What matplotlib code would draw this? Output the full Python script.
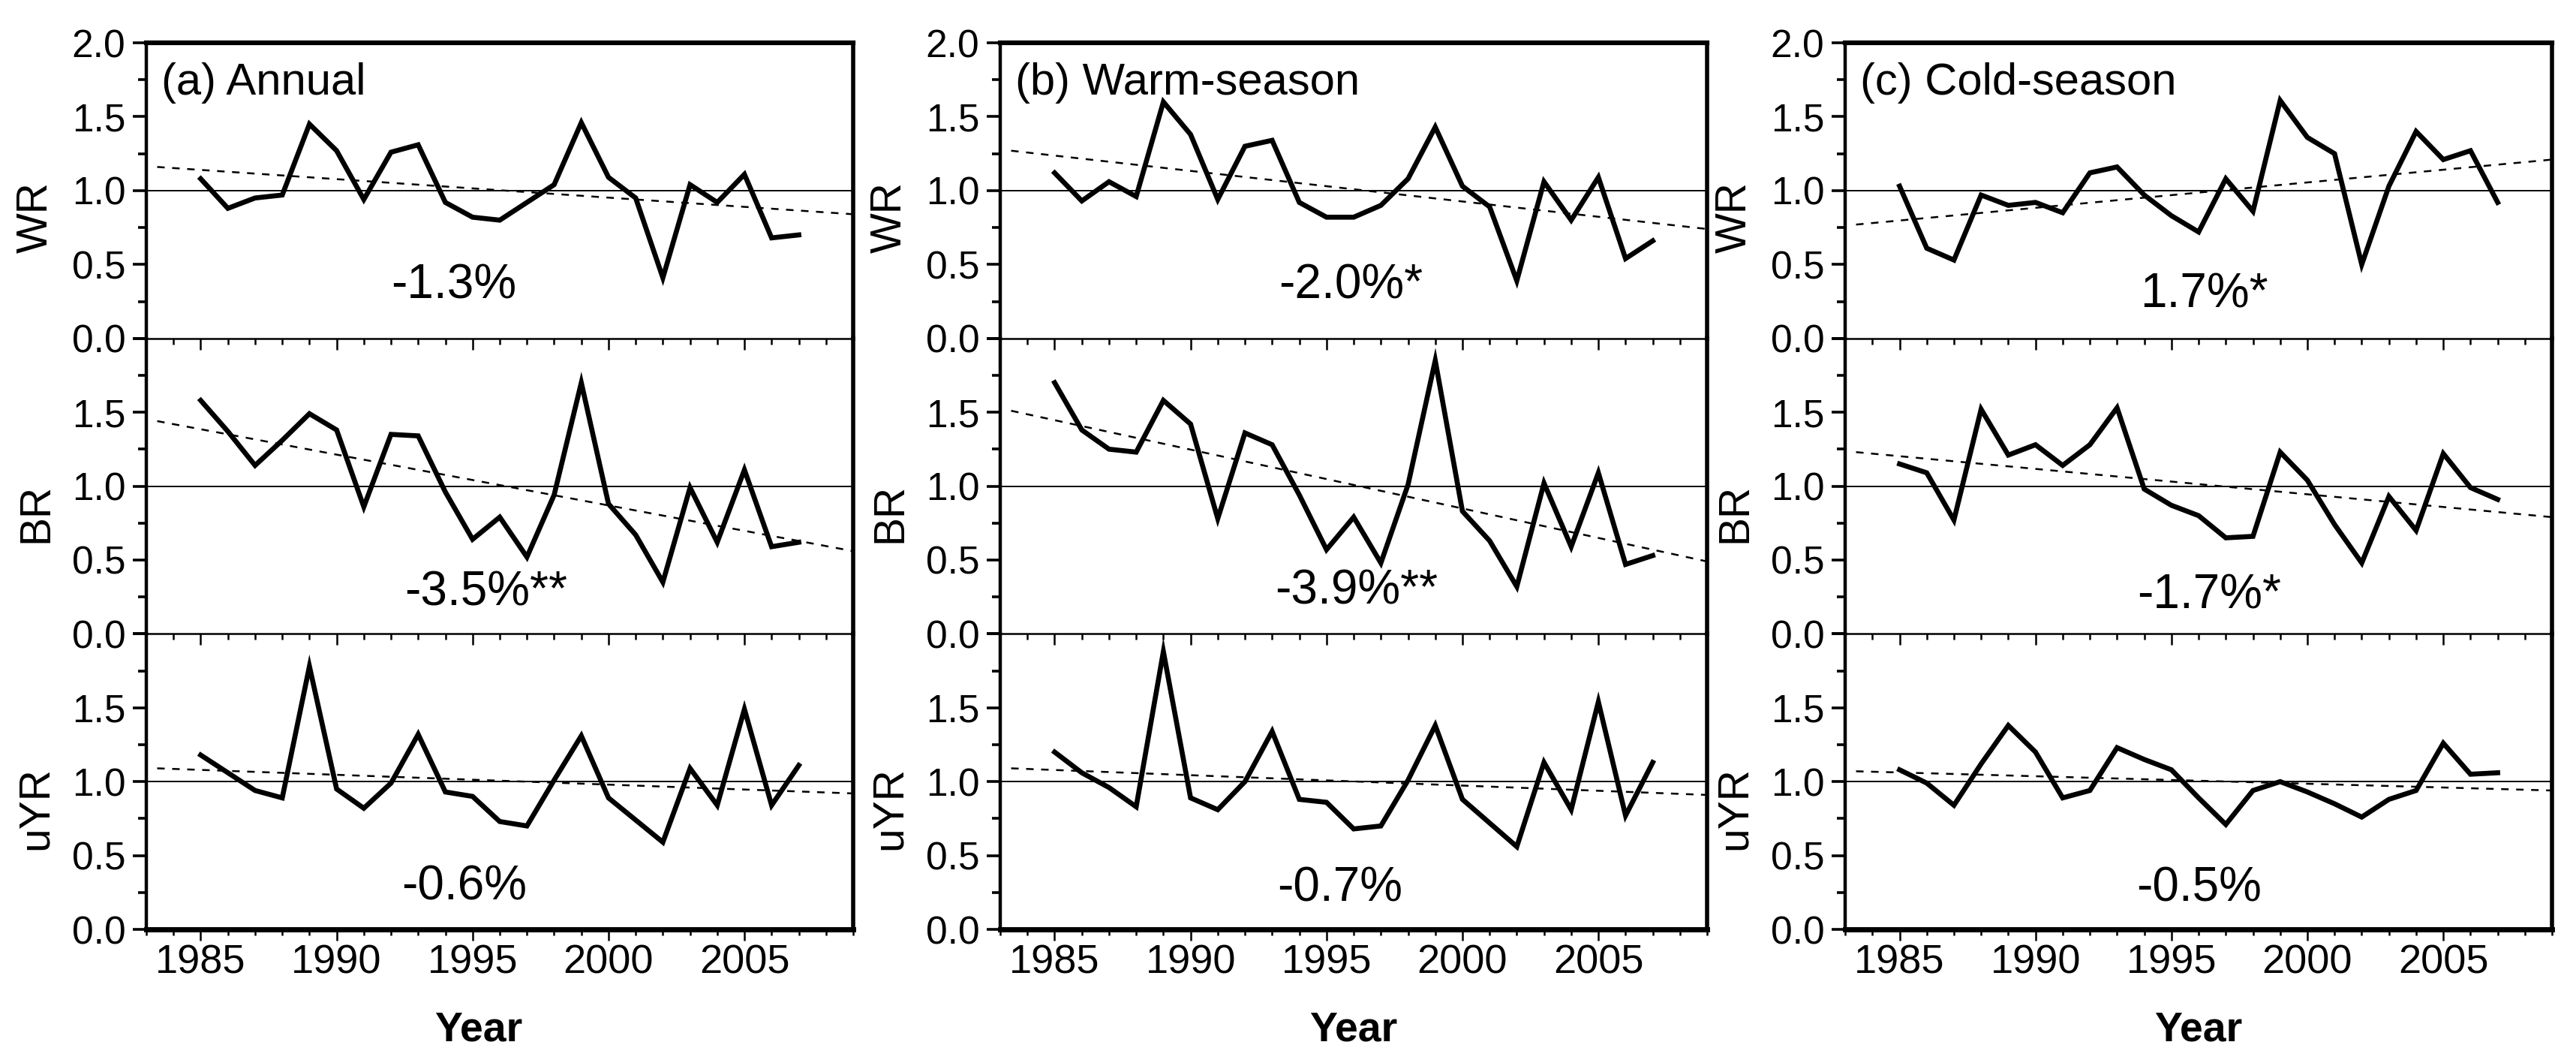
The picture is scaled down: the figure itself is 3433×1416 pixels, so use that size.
import matplotlib
matplotlib.use('Agg')
import matplotlib.pyplot as plt
import numpy as np
from matplotlib.ticker import MultipleLocator

plt.rcParams['font.family'] = ['Liberation Sans', 'DejaVu Sans']

# data
years = np.arange(1985, 2008)
rows = ['WR', 'BR', 'uYR']
titles = ['(a) Annual', '(b) Warm-season', '(c) Cold-season']

wr_annual = [1.08, 0.88, 0.95, 0.97, 1.45, 1.27, 0.94, 1.26, 1.31, 0.92, 0.82, 0.80,
             0.92, 1.04, 1.46, 1.09, 0.95, 0.41, 1.04, 0.92, 1.11, 0.68, 0.70]
br_annual = [1.58, 1.37, 1.14, 1.31, 1.49, 1.38, 0.86, 1.35, 1.34, 0.96, 0.64, 0.79,
             0.52, 0.94, 1.70, 0.88, 0.67, 0.35, 0.99, 0.62, 1.11, 0.59, 0.62]
uyr_annual = [1.18, 1.06, 0.94, 0.89, 1.78, 0.95, 0.82, 0.99, 1.32, 0.93, 0.90, 0.73,
              0.70, 1.01, 1.31, 0.89, 0.74, 0.59, 1.09, 0.84, 1.49, 0.84, 1.11]

wr_warm = [1.12, 0.93, 1.06, 0.96, 1.60, 1.38, 0.94, 1.30, 1.34, 0.92, 0.82, 0.82,
           0.90, 1.08, 1.43, 1.03, 0.89, 0.39, 1.06, 0.80, 1.09, 0.54, 0.66]
br_warm = [1.70, 1.38, 1.25, 1.23, 1.58, 1.42, 0.78, 1.36, 1.28, 0.94, 0.57, 0.79,
           0.48, 1.01, 1.85, 0.83, 0.63, 0.32, 1.02, 0.59, 1.09, 0.47, 0.53]
uyr_warm = [1.20, 1.06, 0.96, 0.83, 1.88, 0.89, 0.81, 1.00, 1.34, 0.88, 0.86, 0.68,
            0.70, 1.01, 1.38, 0.88, 0.72, 0.56, 1.13, 0.81, 1.54, 0.77, 1.13]

wr_cold = [1.03, 0.61, 0.53, 0.97, 0.90, 0.92, 0.85, 1.12, 1.16, 0.97, 0.83, 0.72,
           1.08, 0.86, 1.61, 1.36, 1.25, 0.50, 1.03, 1.40, 1.21, 1.27, 0.92]
br_cold = [1.15, 1.09, 0.77, 1.52, 1.21, 1.28, 1.14, 1.28, 1.53, 0.98, 0.87, 0.80,
           0.65, 0.66, 1.23, 1.04, 0.74, 0.48, 0.93, 0.70, 1.22, 0.99, 0.91]
uyr_cold = [1.08, 0.99, 0.84, 1.12, 1.38, 1.20, 0.89, 0.94, 1.23, 1.15, 1.08, 0.89,
            0.71, 0.94, 1.00, 0.93, 0.85, 0.76, 0.88, 0.94, 1.26, 1.05, 1.06]

# trend lines, values read at the two ends
trend_x = [1983.4, 2009.0]
trend_annual = [[1.16, 0.84], [1.44, 0.56], [1.09, 0.92]]
trend_warm = [[1.27, 0.74], [1.51, 0.49], [1.09, 0.91]]
trend_cold = [[0.77, 1.21], [1.23, 0.79], [1.07, 0.94]]

pct_annual = ['-1.3%', '-3.5%**', '-0.6%']
pct_warm = ['-2.0%*', '-3.9%**', '-0.7%']
pct_cold = ['1.7%*', '-1.7%*', '-0.5%']

series = [[wr_annual, br_annual, uyr_annual],
          [wr_warm, br_warm, uyr_warm],
          [wr_cold, br_cold, uyr_cold]]
trends = [trend_annual, trend_warm, trend_cold]
pcts = [pct_annual, pct_warm, pct_cold]

# text placement (x in years, baseline y)
pct_pos = [[(1994.3, 0.27), (1995.5, 0.19), (1994.7, 0.20)],
           [(1995.9, 0.27), (1996.1, 0.20), (1995.5, 0.19)],
           [(1996.2, 0.21), (1996.4, 0.17), (1996.0, 0.19)]]
year_x = [0.47, 0.5, 0.5]

fig = plt.figure(figsize=(34.33, 14.16), dpi=100)
lefts = [0.0568, 0.3883, 0.7163]
w = 0.2744
h = 0.2780
bottom0 = 0.1257

for j in range(3):
    for i in range(3):
        ax = fig.add_axes([lefts[j], bottom0 + (2 - i) * h, w, h])
        ax.patch.set_visible(False)
        y = series[j][i]
        ax.axhline(1.0, color='black', lw=1.4, zorder=1)
        ax.plot(trend_x, trends[j][i], color='black', lw=1.8, ls=(0, (4, 4)), zorder=2)
        ax.plot(years, y, color='black', lw=4.8, zorder=3, solid_joinstyle='miter')

        ax.set_xlim(1983, 2009)
        ax.set_ylim(0, 2)
        ax.set_xticks([1985, 1990, 1995, 2000, 2005])
        ax.xaxis.set_minor_locator(MultipleLocator(1))
        ax.set_yticks([0, 0.5, 1.0, 1.5, 2.0])
        ax.yaxis.set_minor_locator(MultipleLocator(0.25))
        if i == 0:
            ax.set_yticklabels(['0.0', '0.5', '1.0', '1.5', '2.0'])
        else:
            ax.set_yticklabels(['0.0', '0.5', '1.0', '1.5', ''])

        ax.tick_params(axis='both', which='both', direction='out', colors='black')
        ax.tick_params(axis='x', which='major', length=11, width=1.8, labelsize=39, pad=3)
        ax.tick_params(axis='x', which='minor', length=5.5, width=1.8)
        ax.tick_params(axis='y', which='major', length=13, width=2.6, labelsize=37, pad=7)
        ax.tick_params(axis='y', which='minor', length=8, width=2.6)
        if i < 2:
            ax.tick_params(axis='x', which='both', labelbottom=False)

        ax.spines['left'].set_linewidth(3.2)
        ax.spines['right'].set_linewidth(4.0)
        if i == 0:
            ax.spines['top'].set_linewidth(4.5)
        else:
            ax.spines['top'].set_visible(False)
        ax.spines['bottom'].set_linewidth(5.0 if i == 2 else 1.8)

        ax.text(-0.156, 0.41, rows[i], transform=ax.transAxes, rotation=90,
                ha='center', va='center', fontsize=41)
        px, py = pct_pos[j][i]
        ax.text(px, py, pcts[j][i], ha='center', va='baseline', fontsize=46)
        if i == 0:
            ax.text(1983.55, 1.65, titles[j], ha='left', va='baseline', fontsize=43)
        if i == 2:
            ax.text(year_x[j], -0.378, 'Year', transform=ax.transAxes,
                    ha='center', va='baseline', fontsize=40, fontweight='bold')

fig.savefig('out.png', dpi=100, facecolor='white')
